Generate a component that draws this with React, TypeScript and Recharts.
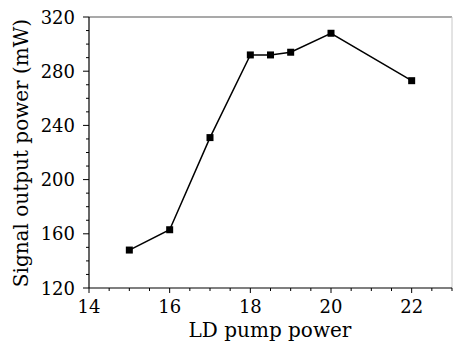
import { LineChart, Line, XAxis, YAxis, ReferenceLine } from 'recharts'

const pumpPower = [15, 16, 17, 18, 18.5, 19, 20, 22]
const signalPower = [148, 163, 231, 292, 292, 294, 308, 273]

const xTicks = [14, 14.5, 15, 15.5, 16, 16.5, 17, 17.5, 18, 18.5, 19, 19.5, 20, 20.5, 21, 21.5, 22, 22.5, 23]
const xLabels = [14, 16, 18, 20, 22]
const yTicks = [120, 130, 140, 150, 160, 170, 180, 190, 200, 210, 220, 230, 240, 250, 260, 270, 280, 290, 300, 310, 320]
const yLabels = [120, 160, 200, 240, 280, 320]

const data = pumpPower.map((x, i) => ({ x, y: signalPower[i] }))

const FONT = '"DejaVu Serif", serif'

function XTick({ x, y, payload }: any) {
  const v = payload.value
  const major = xLabels.includes(v)
  return (
    <g>
      <line x1={x} x2={x} y1={y} y2={y + (major ? 5 : 3)} stroke="#000" strokeWidth={1} />
      {major && (
        <text x={x} y={y + 25} textAnchor="middle" fontSize={18} fontFamily={FONT} fill="#000">
          {v}
        </text>
      )}
    </g>
  )
}

function YTick({ x, y, payload }: any) {
  const v = payload.value
  const major = yLabels.includes(v)
  return (
    <g>
      <line x1={x} x2={x - (major ? 6 : 3)} y1={y} y2={y} stroke="#000" strokeWidth={1} />
      {major && (
        <text x={x - 14} y={y + 6.5} textAnchor="end" fontSize={18} fontFamily={FONT} fill="#000">
          {v}
        </text>
      )}
    </g>
  )
}

function SquareDot({ cx, cy }: any) {
  if (cx == null || cy == null) return null
  return <rect x={cx - 3.5} y={cy - 3.5} width={7} height={7} fill="#000" />
}

export default function App() {
  return (
    <div style={{ position: 'absolute', left: 0, top: 0, background: '#fff' }}>
      <LineChart width={453} height={341} data={data} margin={{ top: 17, right: 1, left: 0, bottom: 0 }}>
        <XAxis
          dataKey="x"
          type="number"
          domain={[14, 23]}
          ticks={xTicks}
          interval={0}
          tickSize={0}
          tickMargin={0}
          tickLine={false}
          tick={<XTick />}
          axisLine={{ stroke: '#000', strokeWidth: 1.2 }}
          height={53}
          allowDataOverflow
          label={{
            content: () => (
              <text x={270} y={337} textAnchor="middle" fontSize={20} fontFamily={FONT} fill="#000">
                LD pump power
              </text>
            ),
          }}
        />
        <YAxis
          type="number"
          domain={[120, 320]}
          ticks={yTicks}
          interval={0}
          tickSize={0}
          tickMargin={0}
          tickLine={false}
          tick={<YTick />}
          axisLine={{ stroke: '#000', strokeWidth: 1.2 }}
          width={89}
          allowDataOverflow
          label={{
            content: () => (
              <text
                x={28}
                y={153}
                transform="rotate(-90 28 153)"
                textAnchor="middle"
                fontSize={20}
                fontFamily={FONT}
                fill="#000"
              >
                Signal output power (mW)
              </text>
            ),
          }}
        />
        <ReferenceLine y={320} stroke="#555" strokeWidth={1.2} />
        <ReferenceLine x={23} stroke="#c8c8c8" strokeWidth={1} />
        <Line
          type="linear"
          dataKey="y"
          stroke="#000"
          strokeWidth={1.5}
          dot={<SquareDot />}
          activeDot={false}
          isAnimationActive={false}
        />
      </LineChart>
    </div>
  )
}
